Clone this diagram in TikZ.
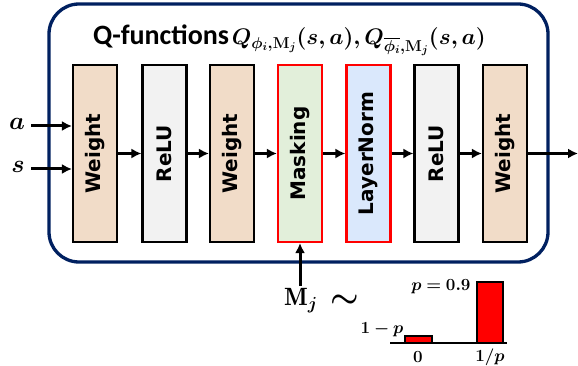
\RequirePackage{fix-cm}
\documentclass[tikz,border=0pt]{standalone}
\usepackage{amsmath,bm}
\usepackage{fontspec}
\newfontfamily\boxfont{DejaVu Sans}
\newfontfamily\titlefont{Carlito}
\usetikzlibrary{arrows.meta}
\definecolor{navy}{RGB}{0,32,96}
\definecolor{wfill}{RGB}{241,220,200}
\definecolor{rfill}{RGB}{242,242,242}
\definecolor{mfill}{RGB}{226,239,218}
\definecolor{lfill}{RGB}{218,232,252}
\definecolor{bred}{RGB}{255,0,0}
\newcommand{\titlemath}{\ensuremath{\bm{Q_{\phi_i,\mathbf{M}_j}(s,a), Q_{\overline{\phi_i},\mathbf{M}_j}(s,a)}}}
\tikzset{
  layer/.style={draw=black, line width=2.1pt, rotate=90, minimum width=177pt, minimum height=44pt, inner sep=0pt,
    font=\boxfont\bfseries\fontsize{20}{24}\selectfont},
  redlayer/.style={layer, draw=bred},
  arr/.style={line width=3pt, -{Latex[length=10pt,width=10pt]}},
  mathlbl/.style={inner sep=0pt},
  titlestyle/.style={inner sep=0pt, font=\titlefont\bfseries\fontsize{28}{32}\selectfont}
}
\begin{document}
\begin{tikzpicture}[x=1pt,y=-1pt]
\useasboundingbox (0,0) rectangle (578,366);
\draw[navy, line width=3.3pt, rounded corners=30pt] (49,4) rectangle (548,262);
\node[titlestyle, anchor=base west] (title) at (93,45) {Q-functions};
\node[mathlbl, anchor=base east, font=\fontsize{22.5}{26}\selectfont] (tmath) at (486,45) {\titlemath};
\node[layer, fill=wfill] (w1) at (95,153.5) {Weight};
\node[layer, fill=rfill] (r1) at (164.5,153.5) {ReLU};
\node[layer, fill=wfill] (w2) at (232,153.5) {Weight};
\node[redlayer, fill=mfill] (mk) at (300,153.5) {Masking};
\node[redlayer, fill=lfill] (ln) at (368.5,153.5) {LayerNorm};
\node[layer, fill=rfill] (r2) at (436.5,153.5) {ReLU};
\node[layer, fill=wfill] (w3) at (505,153.5) {Weight};
\draw[arr] (w1.south) -- (r1.north);
\draw[arr] (r1.south) -- (w2.north);
\draw[arr] (w2.south) -- (mk.north);
\draw[arr] (mk.south) -- (ln.north);
\draw[arr] (ln.south) -- (r2.north);
\draw[arr] (r2.south) -- (w3.north);
\coordinate (out) at (578,153.5);
\draw[arr] (w3.south) -- (out);
\node[mathlbl, font=\fontsize{25}{30}\selectfont] (la) at (17,124) {$\bm{a}$};
\node[mathlbl, font=\fontsize{25}{30}\selectfont] (ls) at (18,167) {$\bm{s}$};
\coordinate (ain) at (31,126);
\coordinate (sin) at (31,169);
\draw[arr] (ain) -- (ain -| w1.north);
\draw[arr] (sin) -- (sin -| w1.north);
\coordinate (min) at (300,286);
\draw[arr] (min) -- (mk.west);
\node[mathlbl, font=\fontsize{25}{30}\selectfont] (mj) at (301,301) {$\mathbf{M}_{\bm{j}}$};
\node[mathlbl, font=\fontsize{32}{36}\selectfont] (tl) at (345,301) {$\bm{\sim}$};
\coordinate (b0) at (390,343);
\coordinate (b1) at (507,343);
\draw[line width=2pt] (b0) -- (b1);
\draw[line width=2.2pt, fill=bred] (405,336) rectangle (432,343);
\draw[line width=2.2pt, fill=bred] (477,282) rectangle (503,343);
\node[mathlbl, font=\fontsize{17}{20}\selectfont] (q) at (382,330) {$\bm{1-p}$};
\node[mathlbl, font=\fontsize{17}{20}\selectfont] (p) at (441,287) {$\bm{p=0.9}$};
\node[mathlbl, font=\fontsize{17}{20}\selectfont] (z) at (418,357) {$\bm{0}$};
\node[mathlbl, font=\fontsize{17}{20}\selectfont] (ip) at (490,357) {$\bm{1/p}$};
\end{tikzpicture}
\end{document}
